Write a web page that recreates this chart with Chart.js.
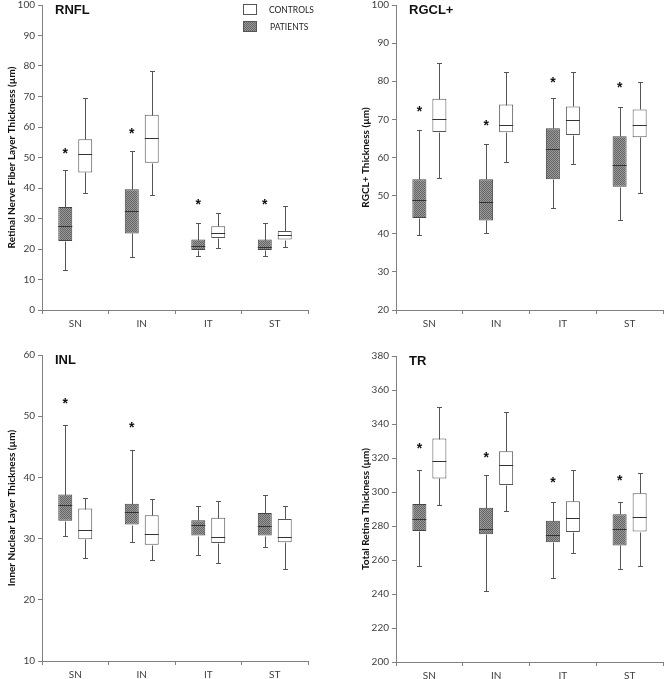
<!DOCTYPE html>
<html>
<head>
<meta charset="utf-8">
<script src="https://cdn.jsdelivr.net/npm/chart.js@4.4.1/dist/chart.umd.min.js"></script>
<style>
  body { margin: 0; background: #fff; }
  #wrap { position: relative; width: 664px; height: 679px; }
  .panel { position: absolute; }
</style>
</head>
<body>
<div id="wrap">
  <div class="panel" style="left:0;top:0;width:332px;height:340px"><canvas id="rnfl"></canvas></div>
  <div class="panel" style="left:332px;top:0;width:332px;height:340px"><canvas id="rgcl"></canvas></div>
  <div class="panel" style="left:0;top:340px;width:332px;height:339px"><canvas id="inl"></canvas></div>
  <div class="panel" style="left:332px;top:340px;width:332px;height:339px"><canvas id="tr"></canvas></div>
</div>
<script>
// sectors on the x axis
const categories = ['SN', 'IN', 'IT', 'ST'];

// each row: [min, q1, median, q3, max] per sector
const rnflPatients = [[13.2, 22.6, 27.4, 33.8, 46.0], [17.3, 25.1, 32.5, 39.6, 52.1], [17.8, 19.7, 20.9, 23.1, 28.4], [17.8, 19.7, 20.7, 23.1, 28.4]];
const rnflControls = [[38.2, 45.1, 51.3, 56.0, 69.5], [37.8, 48.3, 56.4, 64.0, 78.2], [20.2, 23.6, 25.4, 27.5, 31.7], [20.7, 23.1, 24.6, 25.9, 34.1]];
const rnflStars = [52.2, 58.5, 35.2, 35.2];

const rgclPatients = [[39.6, 44.1, 48.9, 54.3, 67.2], [40.3, 43.5, 48.3, 54.3, 63.6], [46.7, 54.3, 62.2, 67.7, 75.7], [43.7, 52.3, 58.1, 65.6, 73.2]];
const rgclControls = [[54.5, 66.7, 70.2, 75.4, 84.7], [58.9, 66.6, 68.4, 73.9, 82.5], [58.4, 65.9, 69.8, 73.4, 82.4], [50.7, 65.3, 68.4, 72.6, 79.7]];
const rgclStars = [72.6, 68.9, 80.4, 79.1];

const inlPatients = [[30.5, 32.9, 35.5, 37.2, 48.6], [29.5, 32.3, 34.3, 35.7, 44.4], [27.3, 30.5, 32.2, 33.0, 35.4], [28.7, 30.5, 32.1, 34.2, 37.2]];
const inlControls = [[26.9, 29.9, 31.4, 34.9, 36.7], [26.5, 29.0, 30.8, 33.8, 36.5], [26.0, 29.3, 30.3, 33.4, 36.2], [25.0, 29.4, 30.2, 33.2, 35.4]];
const inlStars = [52.5, 48.5, null, null];

const trPatients = [[256.7, 277.1, 284.2, 293.0, 312.7], [242.0, 275.1, 278.2, 290.8, 310.0], [249.6, 270.4, 274.9, 283.1, 293.9], [254.7, 268.6, 278.2, 286.9, 293.9]];
const trControls = [[292.5, 308.0, 318.4, 331.4, 350.2], [288.6, 304.1, 316.1, 324.0, 347.1], [263.9, 276.5, 284.9, 294.5, 312.7], [256.3, 276.7, 285.3, 299.2, 311.2]];
const trStars = [326.9, 321.6, 306.9, 308.0];

// axis ranges: min, max, step
const rnflRange = [0, 100, 10];
const rgclRange = [20, 100, 10];
const inlRange = [10, 60, 10];
const trRange = [200, 380, 20];

const tickFont = { family: 'Lato, "Open Sans", sans-serif', size: 10 };
const tickColor = '#404040';
const axisColor = '#808080';

// grey checker texture for the patients boxes
function makePattern() {
  const c = document.createElement('canvas');
  c.width = 2; c.height = 2;
  const g = c.getContext('2d');
  g.fillStyle = '#9a9a9a';
  g.fillRect(0, 0, 2, 2);
  g.fillStyle = '#646464';
  g.fillRect(0, 0, 1, 1);
  g.fillRect(1, 1, 1, 1);
  return g.createPattern(c, 'repeat');
}
const patientFill = makePattern();

// whiskers, medians, asterisks, panel title and legend
const boxExtras = {
  id: 'boxExtras',
  afterDatasetsDraw(chart, args, opts) {
    const ctx = chart.ctx;
    const y = chart.scales.y;
    ctx.save();
    ctx.lineWidth = 1;
    chart.data.datasets.forEach((ds, di) => {
      const meta = chart.getDatasetMeta(di);
      meta.data.forEach((bar, i) => {
        const s = ds.stats[i];
        const x = Math.round(bar.x) + 0.5;
        const half = bar.width / 2;
        const py = v => Math.round(y.getPixelForValue(v)) + 0.5;
        ctx.strokeStyle = '#555';
        ctx.beginPath();
        ctx.moveTo(x, py(s[3])); ctx.lineTo(x, py(s[4]));
        ctx.moveTo(x - 2.5, py(s[4])); ctx.lineTo(x + 2.5, py(s[4]));
        ctx.moveTo(x, py(s[1])); ctx.lineTo(x, py(s[0]));
        ctx.moveTo(x - 2.5, py(s[0])); ctx.lineTo(x + 2.5, py(s[0]));
        ctx.stroke();
        ctx.strokeStyle = '#333';
        ctx.beginPath();
        ctx.moveTo(bar.x - half, py(s[2])); ctx.lineTo(bar.x + half, py(s[2]));
        ctx.stroke();
      });
    });

    // significance asterisks above the patients boxes
    const pat = chart.getDatasetMeta(0);
    ctx.fillStyle = '#111';
    ctx.font = 'bold 14px "Liberation Sans", Arial, sans-serif';
    ctx.textAlign = 'center';
    ctx.textBaseline = 'middle';
    opts.stars.forEach((v, i) => {
      if (v == null) return;
      ctx.fillText('*', pat.data[i].x, y.getPixelForValue(v) + 3);
    });

    // panel title
    const area = chart.chartArea;
    ctx.textAlign = 'left';
    ctx.textBaseline = 'top';
    ctx.font = 'bold 13px "Liberation Sans", Arial, sans-serif';
    ctx.fillText(opts.title, area.left + 13, opts.titleTop);

    if (opts.legend) {
      const lx = area.right - 65;
      ctx.font = '8.5px Lato, "Open Sans", sans-serif';
      ctx.textBaseline = 'middle';
      const rows = [chart.data.datasets[1], chart.data.datasets[0]];
      rows.forEach((ds, r) => {
        const top = 4 + r * 17;
        ctx.fillStyle = ds.backgroundColor;
        ctx.fillRect(lx, top, 14, 11);
        ctx.strokeStyle = '#555';
        ctx.strokeRect(lx + 0.5, top + 0.5, 13, 10);
        ctx.fillStyle = '#222';
        ctx.fillText(ds.label, lx + 26 + r, top + 6);
      });
    }
    ctx.restore();
  }
};

function makeChart(id, patients, controls, stars, range, yTitle, title, box) {
  return new Chart(document.getElementById(id), {
    type: 'bar',
    data: {
      labels: categories,
      datasets: [
        {
          label: 'PATIENTS',
          data: patients.map(s => [s[1], s[3]]),
          stats: patients,
          backgroundColor: patientFill,
          borderColor: '#444',
          borderWidth: 1,
          borderSkipped: false,
          categoryPercentage: 0.6,
          barPercentage: 0.7,
        },
        {
          label: 'CONTROLS',
          data: controls.map(s => [s[1], s[3]]),
          stats: controls,
          backgroundColor: '#ffffff',
          borderColor: '#555',
          borderWidth: 1,
          borderSkipped: false,
          categoryPercentage: 0.6,
          barPercentage: 0.7,
        },
      ],
    },
    options: {
      responsive: true,
      maintainAspectRatio: false,
      animation: false,
      layout: { padding: { left: box.padLeft, right: box.padRight, top: box.padTop, bottom: 0 } },
      plugins: {
        legend: { display: false },
        tooltip: { enabled: false },
        boxExtras: { stars: stars, title: title, titleTop: box.titleTop, legend: box.legend },
      },
      scales: {
        x: {
          grid: { drawOnChartArea: false, drawTicks: true, tickLength: 4, color: axisColor, offset: true },
          border: { color: axisColor },
          ticks: { font: tickFont, color: tickColor, padding: 4, maxRotation: 0 },
          afterFit: s => { s.height = box.xHeight; },
        },
        y: {
          min: range[0],
          max: range[1],
          grid: { drawOnChartArea: false, drawTicks: true, tickLength: 4, color: axisColor },
          border: { color: axisColor },
          ticks: { stepSize: range[2], font: tickFont, color: tickColor, padding: 3 },
          title: {
            display: true,
            text: yTitle,
            color: '#111',
            font: { family: 'Lato, "Open Sans", sans-serif', size: 10, weight: 'bold' },
            padding: { top: 6, bottom: 0 },
          },
          afterFit: s => {
            s.width = box.yWidth;
            s.paddingTop = 0;
            s.paddingBottom = 0;
          },
        },
      },
    },
    plugins: [boxExtras],
  });
}

makeChart('rnfl', rnflPatients, rnflControls, rnflStars, rnflRange,
  'Retinal Nerve Fiber Layer Thickness (\u00b5m)', 'RNFL',
  { padLeft: 0, padRight: 24, padTop: 5, xHeight: 30, yWidth: 42, titleTop: 4, legend: true });
makeChart('rgcl', rgclPatients, rgclControls, rgclStars, rgclRange,
  'RGCL+ Thickness (\u00b5m)', 'RGCL+',
  { padLeft: 22, padRight: 1, padTop: 5, xHeight: 30, yWidth: 42, titleTop: 4, legend: false });
makeChart('inl', inlPatients, inlControls, inlStars, inlRange,
  'Inner Nuclear Layer Thickness (\u00b5m)', 'INL',
  { padLeft: 0, padRight: 24, padTop: 15, xHeight: 18, yWidth: 42, titleTop: 14, legend: false });
makeChart('tr', trPatients, trControls, trStars, trRange,
  'Total Retina Thickness (\u00b5m)', 'TR',
  { padLeft: 22, padRight: 1, padTop: 16, xHeight: 17, yWidth: 42, titleTop: 15, legend: false });
</script>
</body>
</html>
